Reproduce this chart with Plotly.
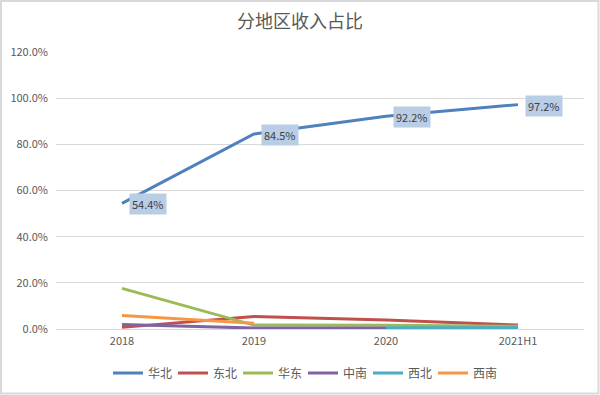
import plotly.graph_objects as go

categories = ["2018", "2019", "2020", "2021H1"]
huabei = [54.4, 84.5, 92.2, 97.2]
dongbei = [0.7, 5.4, 3.9, 1.7]
huadong = [17.6, 1.7, 1.6, 1.2]
zhongnan = [2.0, 0.4, 0.4, None]
xibei = [None, None, 0.5, 0.6]
xinan = [5.8, 2.5, None, None]

series = [
    ("华北", huabei, "#4F81BD"),
    ("东北", dongbei, "#C0504D"),
    ("华东", huadong, "#9BBB59"),
    ("中南", zhongnan, "#8064A2"),
    ("西北", xibei, "#4BACC6"),
    ("西南", xinan, "#F79646"),
]

font_family = "Noto Sans CJK SC, Noto Sans, sans-serif"

fig = go.Figure()
for name, vals, color in series:
    fig.add_trace(go.Scatter(
        x=categories, y=vals, name=name, mode="lines",
        line=dict(color=color, width=3),
        connectgaps=False,
    ))

for i, v in enumerate(huabei):
    fig.add_annotation(
        x=i, y=v, xref="x", yref="y",
        text=f"{v:.1f}%", showarrow=False,
        xanchor="left", yanchor="middle", xshift=7, yshift=-1,
        bgcolor="#B9CDE5", borderpad=2,
        font=dict(size=11, color="#404040", family=font_family),
    )

L, R, T, B = 56, 16, 52, 66
W, H = 600, 395
pw, ph = W - L - R, H - T - B
fig.add_shape(
    type="rect", xref="paper", yref="paper",
    x0=(-L + 1) / pw, x1=1 + (R - 1.5) / pw,
    y0=(-B + 1.5) / ph, y1=1 + (T - 1) / ph,
    line=dict(color="#d9d9d9", width=2), layer="below",
)

fig.update_layout(
    width=W, height=H,
    margin=dict(l=L, r=R, t=T, b=B, autoexpand=False),
    paper_bgcolor="white", plot_bgcolor="white",
    title=dict(text="分地区收入占比", x=0.5, xanchor="center",
               y=1 - 22 / H, yanchor="middle", yref="container",
               font=dict(size=18, color="#595959", family=font_family)),
    xaxis=dict(type="category", showgrid=False, showline=False, zeroline=False, ticks="",
               automargin=False, ticklabelstandoff=4,
               tickfont=dict(size=11, color="#595959", family=font_family),
               range=[-0.5, 3.5]),
    yaxis=dict(range=[0, 120], dtick=20, tickformat=".1f", ticksuffix="%",
               showgrid=True, gridcolor="#d9d9d9", gridwidth=1,
               zeroline=True, zerolinecolor="#d9d9d9", zerolinewidth=1,
               showline=False, ticks="", automargin=False, ticklabelstandoff=7,
               tickfont=dict(size=11, color="#595959", family=font_family)),
    legend=dict(orientation="h", xref="container", x=108 / W, xanchor="left",
                yref="container", y=(H - 373) / H, yanchor="middle",
                font=dict(size=12, color="#595959", family=font_family),
                itemwidth=30, tracegroupgap=0,
                entrywidth=20, entrywidthmode="pixels"),
    showlegend=True,
)

fig.write_html("out.html", config={"displayModeBar": False},
               post_script="document.body.style.margin='0';document.body.style.overflow='hidden';")
